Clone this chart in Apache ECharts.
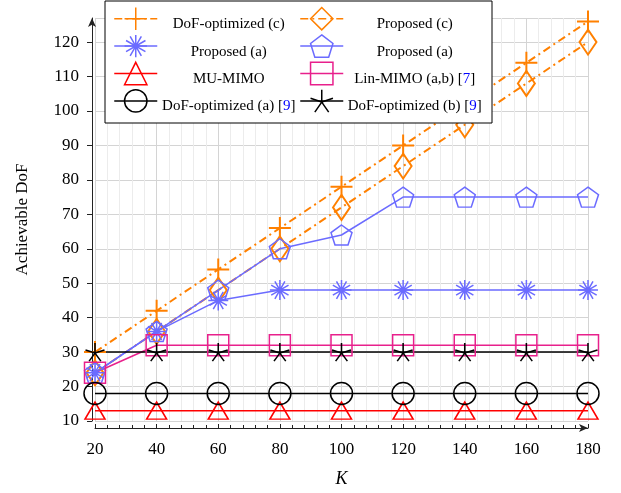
<!DOCTYPE html>
<html>
<head>
<meta charset="utf-8">
<script src="https://cdn.jsdelivr.net/npm/echarts@6/dist/echarts.min.js"></script>
<style>
  html, body { margin: 0; padding: 0; background: #fff; }
  #main { width: 621px; height: 493px; }
</style>
</head>
<body>
<div id="main"></div>
<script>
// data
var kValues = [20, 40, 60, 80, 100, 120, 140, 160, 180];
var dofOptC = [30, 42, 54, 66, 78, 90, 102, 114, 126];
var proposedC = [24, 36, 48, 60, 72, 84, 96, 108, 120];
var proposedAStar = [24, 36, 45, 48, 48, 48, 48, 48, 48];
var proposedAPent = [24, 36, 48, 60, 64, 75, 75, 75, 75];
var muMimo = [13, 13, 13, 13, 13, 13, 13, 13, 13];
var linMimo = [24, 32, 32, 32, 32, 32, 32, 32, 32];
var dofOptA = [18, 18, 18, 18, 18, 18, 18, 18, 18];
var dofOptB = [30, 30, 30, 30, 30, 30, 30, 30, 30];
var xTicks = [20, 40, 60, 80, 100, 120, 140, 160, 180];
var yTicks = [10, 20, 30, 40, 50, 60, 70, 80, 90, 100, 110, 120];

// legend texts (two entries share the same visible name)
var legendText = {
  s1: '{t|DoF-optimized (c)}',
  s2: '{t|Proposed (c)}',
  s3: '{t|Proposed (a)}',
  s4: '{t|Proposed (a)}',
  s5: '{t|MU-MIMO}',
  s6: '{t|Lin-MIMO (a,b) [}{b|7}{t|]}',
  s7: '{t|DoF-optimized (a) [}{b|9}{t|]}',
  s8: '{t|DoF-optimized (b) [}{b|9}{t|]}'
};

var ORANGE = '#ff8000';
var BLUE = '#6b6bff';
var RED = '#ff0000';
var MAGENTA = '#e8208c';
var BLACK = '#000000';
var FONT = 'Liberation Serif';

var PLUS = 'path://M0,-1L0,1M-1,0L1,0';
var ASTER = 'path://M-1,0L1,0M-0.866,-0.5L0.866,0.5M-0.5,-0.866L0.5,0.866M0,-1L0,1M0.5,-0.866L-0.5,0.866M0.866,-0.5L-0.866,0.5';
var STAR5 = 'path://M0,0L0,-1M0,0L0.951,-0.309M0,0L0.588,0.809M0,0L-0.588,0.809M0,0L-0.951,-0.309';
var PENTA = 'path://M0,-1L0.951,-0.309L0.588,0.809L-0.588,0.809L-0.951,-0.309Z';

function pairs(ys) {
  return kValues.map(function (k, i) { return [k, ys[i]]; });
}

function line(name, ys, color, symbol, size, dash, width) {
  return {
    name: name,
    type: 'line',
    data: pairs(ys),
    symbol: symbol,
    symbolSize: size,
    clip: false,
    lineStyle: { color: color, width: width || 1.5, type: dash || 'solid' },
    itemStyle: { color: 'none', borderColor: color, borderWidth: width || 1.5 }
  };
}

// one legend column, text centred in a fixed-width cell
function legendColumn(left, names) {
  return {
    orient: 'vertical',
    zlevel: 1,
    z: 4,
    left: left,
    top: -1,
    padding: [6, 0, 0, 0],
    itemWidth: 43,
    itemHeight: 28,
    itemGap: 0,
    itemStyle: { borderWidth: 1.5 },
    lineStyle: { width: 1.5 },
    data: names,
    formatter: function (name) { return legendText[name]; },
    textStyle: {
      width: 133,
      lineHeight: 16,
      padding: [11, 0, 0, 0],
      fontFamily: FONT,
      fontSize: 15,
      color: '#000',
      rich: {
        t: { fontFamily: FONT, fontSize: 15, lineHeight: 16, color: '#000', align: 'center' },
        b: { fontFamily: FONT, fontSize: 15, lineHeight: 16, color: '#0000ff', align: 'center' }
      }
    }
  };
}

var chart = echarts.init(document.getElementById('main'));
var option = {
  animation: false,
  backgroundColor: '#fff',
  grid: { left: 95, right: 33, top: 18, bottom: 72 },
  // legend frame, drawn above the plot and below the legend entries
  graphic: {
    zlevel: 1,
    z: 3,
    elements: [{
      type: 'rect',
      zlevel: 1,
      z: 3,
      shape: { x: 105, y: 1, width: 387, height: 122 },
      style: { fill: '#fff', stroke: '#000', lineWidth: 1 }
    }]
  },
  legend: [
    legendColumn(113.5, ['s1', 's3', 's5', 's7']),
    legendColumn(299.5, ['s2', 's4', 's6', 's8'])
  ],
  xAxis: {
    type: 'value',
    min: 20,
    max: 180,
    interval: 20,
    offset: 7,
    name: 'K',
    nameLocation: 'middle',
    nameGap: 42,
    nameTextStyle: { fontFamily: FONT, fontStyle: 'italic', fontSize: 18, color: '#000' },
    axisLine: { show: true, symbol: ['none', 'arrow'], symbolSize: [6, 9], lineStyle: { color: '#222', width: 1 } },
    axisTick: { show: true, inside: true, length: 4, lineStyle: { color: '#222' } },
    minorTick: { show: true, splitNumber: 5, length: 3, lineStyle: { color: '#222' } },
    axisLabel: {
      margin: 13,
      fontFamily: FONT,
      fontSize: 17,
      color: '#000',
      formatter: function (v) { return xTicks.indexOf(v) >= 0 ? String(v) : ''; }
    },
    splitLine: { show: true, lineStyle: { color: '#d4d4d4', width: 1 } },
    minorSplitLine: { show: true, lineStyle: { color: '#ececec', width: 1 } }
  },
  yAxis: {
    type: 'value',
    min: 10,
    max: 127,
    interval: 10,
    offset: 3,
    name: 'Achievable DoF',
    nameLocation: 'middle',
    nameGap: 61,
    nameTextStyle: { fontFamily: FONT, fontSize: 17, color: '#000' },
    axisLine: { show: true, symbol: ['none', 'arrow'], symbolSize: [6, 9], lineStyle: { color: '#222', width: 1 } },
    axisTick: { show: true, length: 5, lineStyle: { color: '#222' } },
    axisLabel: {
      margin: 13,
      fontFamily: FONT,
      fontSize: 17,
      color: '#000',
      showMaxLabel: false,
      formatter: function (v) { return yTicks.indexOf(v) >= 0 ? String(v) : ''; }
    },
    splitLine: { show: true, lineStyle: { color: '#d4d4d4', width: 1 } }
  },
  series: [
    line('s1', dofOptC, ORANGE, PLUS, 22, [8, 4, 2, 4], 2),
    line('s2', proposedC, ORANGE, 'diamond', [17, 25], [8, 4, 2, 4], 2),
    line('s3', proposedAStar, BLUE, ASTER, 20),
    line('s4', proposedAPent, BLUE, PENTA, [21, 20]),
    line('s5', muMimo, RED, 'triangle', [20, 17]),
    line('s6', linMimo, MAGENTA, 'rect', 21),
    line('s7', dofOptA, BLACK, 'circle', 22),
    line('s8', dofOptB, BLACK, STAR5, [19, 18])
  ]
};
chart.setOption(option);
window.addEventListener('resize', function () { chart.resize(); });
</script>
</body>
</html>
